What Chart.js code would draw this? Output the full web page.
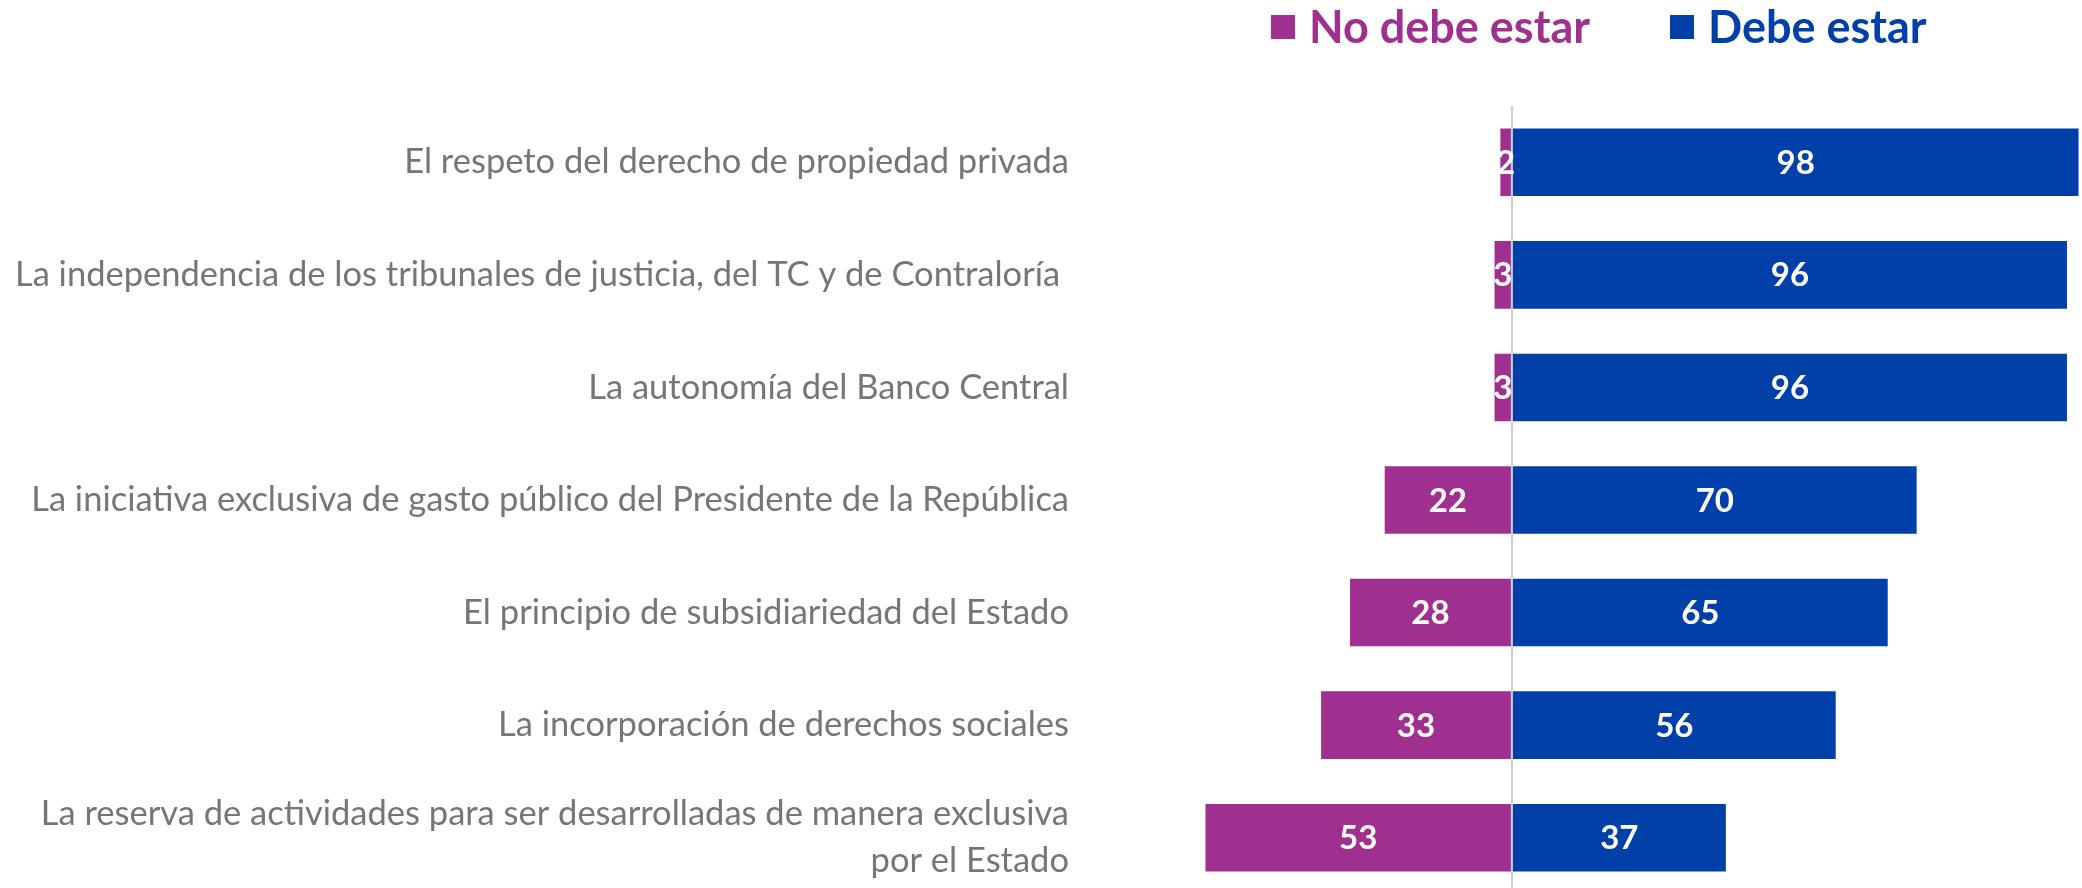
<!DOCTYPE html>
<html>
<head>
<meta charset="utf-8">
<script src="https://cdn.jsdelivr.net/npm/chart.js@4"></script>
<style>
  html, body { margin: 0; padding: 0; background: #fff; overflow: hidden; }
  #wrap { position: relative; width: 2082px; height: 888px; overflow: hidden; }
  #legend { position: absolute; top: 0; left: 0; }
  .item { position: absolute; font-family: Lato, sans-serif; font-weight: bold; font-size: 45px; line-height: 46px; white-space: nowrap; }
  .box { position: absolute; width: 24px; height: 24px; }
</style>
</head>
<body>
<div id="wrap">
  <canvas id="chart" width="2082" height="894"></canvas>
  <div id="legend"></div>
</div>
<script>
// Encuesta: que debe estar en la nueva Constitucion
const categories = [
    'El respeto del derecho de propiedad privada',
    'La independencia de los tribunales de justicia, del TC y de Contraloría ',
    'La autonomía del Banco Central',
    'La iniciativa exclusiva de gasto público del Presidente de la República',
    'El principio de subsidiariedad del Estado',
    'La incorporación de derechos sociales',
    ['La reserva de actividades para ser desarrolladas de manera exclusiva', 'por el Estado']
];
const noDebe = [2, 3, 3, 22, 28, 33, 53];
const debe = [98, 96, 96, 70, 65, 56, 37];
const seriesNames = ['No debe estar', 'Debe estar'];
const seriesColors = ['#A0308F', '#0040A8'];

// build the legend from the series names
const legend = document.getElementById('legend');
const legendX = [1271, 1670];
seriesNames.forEach(function(name, i) {
    const box = document.createElement('div');
    box.className = 'box';
    box.style.left = legendX[i] + 'px';
    box.style.top = '15px';
    box.style.background = seriesColors[i];
    legend.appendChild(box);
    const txt = document.createElement('div');
    txt.className = 'item';
    txt.style.left = (legendX[i] + 38) + 'px';
    txt.style.top = '3px';
    txt.style.color = seriesColors[i];
    txt.textContent = name;
    legend.appendChild(txt);
});

const rawValues = [noDebe, debe];

// white values in the middle of each bar
const barLabels = {
    id: 'barLabels',
    afterDatasetsDraw(chart) {
        const ctx = chart.ctx;
        ctx.save();
        ctx.fillStyle = '#fff';
        ctx.font = 'bold 33px Lato, sans-serif';
        ctx.textAlign = 'center';
        ctx.textBaseline = 'middle';
        chart.data.datasets.forEach(function(ds, i) {
            chart.getDatasetMeta(i).data.forEach(function(bar, j) {
                const p = bar.getProps(['x', 'y', 'base'], true);
                ctx.fillText(String(rawValues[i][j]), (p.x + p.base) / 2, p.y + 1);
            });
        });
        ctx.restore();
    }
};

const ctx = document.getElementById('chart').getContext('2d');
const chart = new Chart(ctx, {
    type: 'bar',
    data: {
        labels: categories,
        datasets: [{
            label: seriesNames[0],
            data: noDebe.map(v => -v),
            backgroundColor: seriesColors[0],
            barPercentage: 0.6,
            categoryPercentage: 1
        }, {
            label: seriesNames[1],
            data: debe,
            backgroundColor: seriesColors[1],
            barPercentage: 0.6,
            categoryPercentage: 1
        }]
    },
    options: {
        indexAxis: 'y',
        responsive: false,
        animation: false,
        devicePixelRatio: 1,
        layout: { padding: { top: 106, right: 0, bottom: 0, left: 0 } },
        plugins: {
            legend: { display: false },
            tooltip: { enabled: false }
        },
        scales: {
            x: {
                stacked: true,
                min: -74.7,
                max: 98.6,
                ticks: { display: false, stepSize: 10 },
                border: { display: false },
                grid: {
                    drawTicks: false,
                    lineWidth: 2,
                    color: c => c.tick && c.tick.value === 0 ? '#d0d0d0' : 'rgba(0,0,0,0)'
                }
            },
            y: {
                stacked: true,
                border: { display: false },
                grid: { display: false, drawTicks: false },
                afterFit: function(scale) {
                    scale.width = 1080;
                    scale.paddingTop = 0;
                    scale.paddingBottom = 0;
                },
                ticks: {
                    padding: 11,
                    color: '#767676',
                    font: { family: 'Lato, sans-serif', size: 34.5, lineHeight: 1.37 }
                }
            }
        }
    },
    plugins: [barLabels]
});
</script>
</body>
</html>
